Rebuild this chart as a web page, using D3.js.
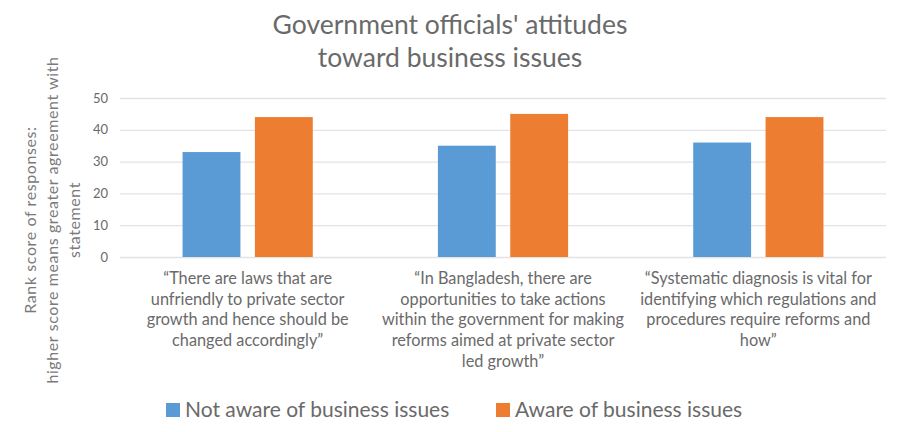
<!DOCTYPE html>
<html>
<head>
<meta charset="utf-8">
<script src="https://cdn.jsdelivr.net/npm/d3@7"></script>
<style>
  body { margin: 0; background: #fff; }
  svg { font-family: Lato, "Open Sans", sans-serif; }
</style>
</head>
<body>
<div id="chart"></div>
<script>
// data
const categories = ['laws', 'opportunities', 'diagnosis'];
const categoryLabels = [
    ['\u201cThere are laws that are', 'unfriendly to private sector', 'growth and hence should be', 'changed accordingly\u201d'],
    ['\u201cIn Bangladesh, there are', 'opportunities to take actions', 'within the government for making', 'reforms aimed at private sector', 'led growth\u201d'],
    ['\u201cSystematic diagnosis is vital for', 'identifying which regulations and', 'procedures require reforms and', 'how\u201d']
];
const seriesNames = ['Not aware of business issues', 'Aware of business issues'];
const notAware = [33, 35, 36];
const aware = [44, 45, 44];
const yTicks = [0, 10, 20, 30, 40, 50];
const titleLines = ['Government officials\' attitudes', 'toward business issues'];
const yTitleLines = ['Rank score of responses:', 'higher score means greater agreement with', 'statement'];

const colors = ['#5B9BD5', '#ED7D31'];
const textColor = '#6a6a6a';

const width = 900, height = 432;
const margin = { top: 98, right: 14, bottom: 175, left: 120 };
const innerW = width - margin.left - margin.right;
const innerH = height - margin.top - margin.bottom;

const svg = d3.select('#chart').append('svg')
    .attr('width', width)
    .attr('height', height);

// title
svg.append('g')
    .selectAll('text')
    .data(titleLines)
    .join('text')
    .attr('x', 450)
    .attr('y', (d, i) => 25 + i * 33)
    .attr('dy', '0.35em')
    .attr('text-anchor', 'middle')
    .style('font-size', '26.5px')
    .style('fill', textColor)
    .text(d => d);

const chart = svg.append('g')
    .attr('transform', `translate(${margin.left},${margin.top})`);

const yScale = d3.scaleLinear()
    .domain([0, 50])
    .range([innerH, 0]);

const x0 = d3.scaleBand()
    .domain(categories)
    .range([0, innerW])
    .paddingInner(0.49)
    .paddingOuter(0.245);

const x1 = d3.scaleBand()
    .domain([0, 1])
    .range([0, x0.bandwidth()])
    .paddingInner(0.2);

// gridlines
const yAxis = d3.axisLeft(yScale)
    .tickValues(yTicks)
    .tickSize(-innerW)
    .tickPadding(12);

const yAxisG = chart.append('g')
    .attr('class', 'axis y-axis')
    .call(yAxis);
yAxisG.select('.domain').remove();
yAxisG.selectAll('.tick line')
    .attr('stroke', '#e3e3e3')
    .attr('stroke-width', 1.3);
yAxisG.selectAll('.tick text')
    .style('font-family', 'Lato, sans-serif')
    .style('font-size', '13px')
    .style('fill', textColor);

// bars
const rows = categories.map((c, i) => ({ cat: c, values: [notAware[i], aware[i]] }));

const groups = chart.selectAll('.group')
    .data(rows)
    .join('g')
    .attr('class', 'group')
    .attr('transform', d => `translate(${x0(d.cat)},0)`);

groups.selectAll('rect')
    .data(d => d.values.map((v, k) => ({ k: k, v: v })))
    .join('rect')
    .attr('x', d => x1(d.k))
    .attr('width', x1.bandwidth())
    .attr('y', d => yScale(d.v))
    .attr('height', d => innerH - yScale(d.v))
    .attr('fill', d => colors[d.k]);

// category labels
const labelG = chart.append('g')
    .attr('class', 'axis x-axis')
    .attr('transform', `translate(0,${innerH})`);

labelG.selectAll('g')
    .data(categories)
    .join('g')
    .attr('transform', d => `translate(${x0(d) + x0.bandwidth() / 2},0)`)
    .each(function (d, i) {
        d3.select(this).selectAll('text')
            .data(categoryLabels[i])
            .join('text')
            .attr('y', (t, j) => 21 + j * 20.8)
            .attr('dy', '0.35em')
            .attr('text-anchor', 'middle')
            .style('font-size', '16.3px')
            .style('fill', textColor)
            .text(t => t);
    });

// y axis title
svg.append('g')
    .attr('transform', 'translate(30,220) rotate(-90)')
    .selectAll('text')
    .data(yTitleLines)
    .join('text')
    .attr('x', 0)
    .attr('y', (d, i) => i * 22)
    .attr('dy', '0.35em')
    .attr('text-anchor', 'middle')
    .style('font-size', '16px')
    .style('letter-spacing', '0.6px')
    .style('fill', '#7a7a7a')
    .text(d => d);

// legend
const legendX = [166, 496];
const legend = svg.append('g')
    .attr('class', 'legend')
    .selectAll('g')
    .data(seriesNames)
    .join('g')
    .attr('transform', (d, i) => `translate(${legendX[i]},410)`);

legend.append('rect')
    .attr('x', 0)
    .attr('y', -7)
    .attr('width', 14)
    .attr('height', 14)
    .attr('fill', (d, i) => colors[i]);

legend.append('text')
    .attr('x', 19)
    .attr('dy', '0.35em')
    .style('font-size', '21px')
    .style('fill', textColor)
    .text(d => d);
</script>
</body>
</html>
